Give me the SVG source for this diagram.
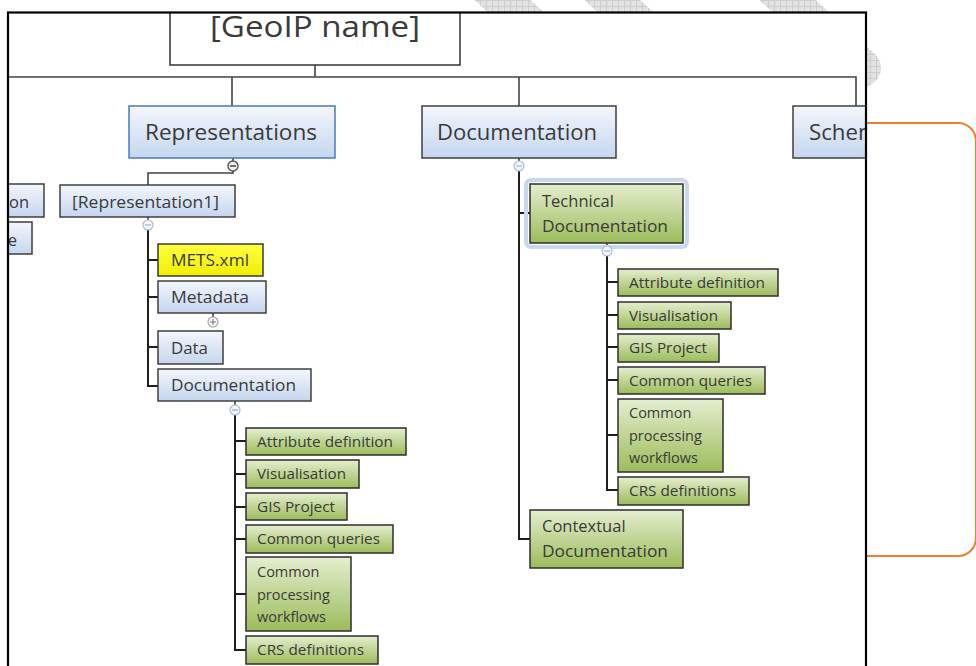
<svg xmlns="http://www.w3.org/2000/svg" width="976" height="666" viewBox="0 0 976 666">
<style>
  text { font-family: "Open Sans", "Noto Sans", "Liberation Sans", sans-serif; fill: #3a3a3a; }
  .blue { fill: url(#gBlue); stroke: #3f3f3f; stroke-width: 1.5; }
  .blueSel { fill: url(#gBlue); stroke: #4a78c8; stroke-width: 1.5; }
  .green { fill: url(#gGreen); stroke: #2e2e2e; stroke-width: 1.5; }
  .yellow { fill: url(#gYellow); stroke: #3a3a3a; stroke-width: 1.5; }
  .conn path { fill: none; stroke: #444; stroke-width: 1.6; }
  .conn .dark { stroke: #1e1e1e; stroke-width: 2; }
  .t21 { font-size: 21px; }
  .t17 { font-size: 16.5px; }
  .t15 { font-size: 14.5px; }
  .tog circle { stroke: #a9bcd8; stroke-width: 1.2; fill: #f4f7fc; }
  .tog path { stroke: #8fa6c8; stroke-width: 1.2; fill: none; }
  .togDark circle { stroke: #555; stroke-width: 1.4; fill: #f2f2f2; }
  .togDark path { stroke: #444; stroke-width: 1.4; fill: none; }
  .togGray circle { stroke: #9a9a9a; stroke-width: 1.1; fill: #fafafa; }
  .togGray path { stroke: #777; stroke-width: 1.1; fill: none; }
</style>
<defs>
  <linearGradient id="gBlue" x1="0" y1="0" x2="0" y2="1">
    <stop offset="0" stop-color="#f3f6fc"/>
    <stop offset="1" stop-color="#c5d6ef"/>
  </linearGradient>
  <linearGradient id="gGreen" x1="0" y1="0" x2="0" y2="1">
    <stop offset="0" stop-color="#e4eecf"/>
    <stop offset="1" stop-color="#9cbc5a"/>
  </linearGradient>
  <linearGradient id="gYellow" x1="0" y1="0" x2="0" y2="1">
    <stop offset="0" stop-color="#ffff40"/>
    <stop offset="1" stop-color="#f2ee00"/>
  </linearGradient>
  <pattern id="hatch" width="6" height="6" patternUnits="userSpaceOnUse">
    <rect width="6" height="6" fill="#e2e2e2"/>
    <path d="M0,0.5 H6 M0.5,0 V6" stroke="#cdcdcd" stroke-width="1"/>
  </pattern>
  <clipPath id="frameClip">
    <rect x="8" y="12.5" width="858" height="700"/>
  </clipPath>
</defs>

<!-- watermark stripes (behind frame) -->
<g id="watermark" stroke="url(#hatch)" stroke-width="38" stroke-linecap="round" fill="none">
  <path d="M470,-30 L600,90"/>
  <path d="M580,-30 L720,100"/>
  <path d="M760,-25 L862,68"/>
</g>

<!-- orange callout -->
<path id="callout" d="M866,123 H958 A18,18 0 0 1 976,141 V538 A18,18 0 0 1 958,556 H866" fill="none" stroke="#ee7d31" stroke-width="2"/>

<!-- frame background -->
<rect x="8" y="12.5" width="858" height="700" fill="#ffffff"/>

<g clip-path="url(#frameClip)">
  <g id="connectors" class="conn">
    <path d="M315,65 V77"/>
    <path d="M8,77 H856 V106"/>
    <path d="M232,77 V106"/>
    <path d="M519,77 V106"/>
    <path d="M233,158 V161"/>
    <path d="M233,171 V173 H148 V185"/>
    <path d="M148,217 V220"/>
    <path class="dark" d="M148,230 V386 H158 M148,260 H158 M148,297 H158 M148,347 H158"/>
    <path d="M213,313 V317"/>
    <path d="M235,401 V405"/>
    <path class="dark" d="M235,415 V650 H246 M235,441 H246 M235,474 H246 M235,507 H246 M235,539 H246 M235,594 H246"/>
    <path d="M519,158 V161"/>
    <path class="dark" d="M519,171 V539 H530 M519,213 H530"/>
    <path d="M607,243 V246"/>
    <path class="dark" d="M607,256 V490 H618 M607,282 H618 M607,315 H618 M607,347 H618 M607,380 H618 M607,435 H618"/>
  </g>

  <g id="root">
    <rect x="170" y="4" width="290" height="61" fill="#ffffff" stroke="#333" stroke-width="1.5"/>
    <text x="315" y="37" font-size="29" text-anchor="middle" textLength="210" lengthAdjust="spacingAndGlyphs">[GeoIP name]</text>
  </g>

  <g id="representations">
    <rect class="blueSel" x="129" y="106" width="206" height="52"/>
    <text class="t21" x="145" y="140" textLength="172" lengthAdjust="spacingAndGlyphs">Representations</text>
  </g>
  <g id="documentation">
    <rect class="blue" x="422" y="106" width="194" height="52"/>
    <text class="t21" x="437" y="140" textLength="160" lengthAdjust="spacingAndGlyphs">Documentation</text>
  </g>
  <g id="schema">
    <rect class="blue" x="793" y="106" width="100" height="52"/>
    <text class="t21" x="809" y="140" textLength="82" lengthAdjust="spacingAndGlyphs">Schema</text>
  </g>

  <g id="left-node-1">
    <rect class="blue" x="-40" y="184" width="84" height="33"/>
    <text class="t17" x="29" y="208" text-anchor="end">on</text>
  </g>
  <g id="left-node-2">
    <rect class="blue" x="-40" y="222" width="72" height="32"/>
    <text class="t17" x="17" y="246" text-anchor="end">e</text>
  </g>

  <g id="representation1">
    <rect class="blue" x="60" y="185" width="175" height="32"/>
    <text class="t17" x="72" y="208" textLength="147" lengthAdjust="spacingAndGlyphs">[Representation1]</text>
  </g>
  <g id="mets">
    <rect class="yellow" x="158" y="244" width="105" height="32"/>
    <text class="t17" x="171" y="266" textLength="78" lengthAdjust="spacingAndGlyphs">METS.xml</text>
  </g>
  <g id="metadata">
    <rect class="blue" x="158" y="281" width="108" height="32"/>
    <text class="t17" x="171" y="303" textLength="78" lengthAdjust="spacingAndGlyphs">Metadata</text>
  </g>
  <g id="data">
    <rect class="blue" x="158" y="331" width="65" height="33"/>
    <text class="t17" x="171" y="354" textLength="37" lengthAdjust="spacingAndGlyphs">Data</text>
  </g>
  <g id="rep-documentation">
    <rect class="blue" x="158" y="369" width="153" height="32"/>
    <text class="t17" x="171" y="391" textLength="125" lengthAdjust="spacingAndGlyphs">Documentation</text>
  </g>

  <g id="rep-attribute-definition">
    <rect class="green" x="246" y="428" width="160" height="27"/>
    <text class="t15" x="257" y="447" textLength="136" lengthAdjust="spacingAndGlyphs">Attribute definition</text>
  </g>
  <g id="rep-visualisation">
    <rect class="green" x="246" y="460" width="113" height="28"/>
    <text class="t15" x="257" y="479" textLength="89" lengthAdjust="spacingAndGlyphs">Visualisation</text>
  </g>
  <g id="rep-gis-project">
    <rect class="green" x="246" y="493" width="101" height="27"/>
    <text class="t15" x="257" y="512" textLength="78" lengthAdjust="spacingAndGlyphs">GIS Project</text>
  </g>
  <g id="rep-common-queries">
    <rect class="green" x="246" y="525" width="147" height="28"/>
    <text class="t15" x="257" y="544" textLength="123" lengthAdjust="spacingAndGlyphs">Common queries</text>
  </g>
  <g id="rep-common-processing">
    <rect class="green" x="246" y="557" width="105" height="74"/>
    <text class="t15" x="257" y="577">Common</text>
    <text class="t15" x="257" y="600">processing</text>
    <text class="t15" x="257" y="622">workflows</text>
  </g>
  <g id="rep-crs-definitions">
    <rect class="green" x="246" y="636" width="132" height="28"/>
    <text class="t15" x="257" y="655" textLength="107" lengthAdjust="spacingAndGlyphs">CRS definitions</text>
  </g>

  <g id="technical-documentation">
    <rect x="526" y="180" width="161" height="67" rx="5" fill="none" stroke="#c8d9ef" stroke-width="4"/>
    <rect class="green" x="530" y="184" width="153" height="59"/>
    <text class="t17" x="542" y="207">Technical</text>
    <text class="t17" x="542" y="232" textLength="126" lengthAdjust="spacingAndGlyphs">Documentation</text>
  </g>
  <g id="tech-attribute-definition">
    <rect class="green" x="618" y="269" width="160" height="27"/>
    <text class="t15" x="629" y="288" textLength="136" lengthAdjust="spacingAndGlyphs">Attribute definition</text>
  </g>
  <g id="tech-visualisation">
    <rect class="green" x="618" y="302" width="113" height="27"/>
    <text class="t15" x="629" y="321" textLength="89" lengthAdjust="spacingAndGlyphs">Visualisation</text>
  </g>
  <g id="tech-gis-project">
    <rect class="green" x="618" y="334" width="101" height="28"/>
    <text class="t15" x="629" y="353" textLength="78" lengthAdjust="spacingAndGlyphs">GIS Project</text>
  </g>
  <g id="tech-common-queries">
    <rect class="green" x="618" y="367" width="147" height="27"/>
    <text class="t15" x="629" y="386" textLength="123" lengthAdjust="spacingAndGlyphs">Common queries</text>
  </g>
  <g id="tech-common-processing">
    <rect class="green" x="618" y="399" width="105" height="73"/>
    <text class="t15" x="629" y="418">Common</text>
    <text class="t15" x="629" y="441">processing</text>
    <text class="t15" x="629" y="463">workflows</text>
  </g>
  <g id="tech-crs-definitions">
    <rect class="green" x="618" y="477" width="131" height="28"/>
    <text class="t15" x="629" y="496" textLength="107" lengthAdjust="spacingAndGlyphs">CRS definitions</text>
  </g>
  <g id="contextual-documentation">
    <rect class="green" x="530" y="510" width="153" height="58"/>
    <text class="t17" x="542" y="532">Contextual</text>
    <text class="t17" x="542" y="557" textLength="126" lengthAdjust="spacingAndGlyphs">Documentation</text>
  </g>

  <g id="toggles">
    <g class="togDark"><circle cx="233" cy="166" r="5"/><path d="M230,166 H236"/></g>
    <g class="tog"><circle cx="519" cy="166" r="5"/><path d="M516,166 H522"/></g>
    <g class="tog"><circle cx="148" cy="225" r="5"/><path d="M145,225 H151"/></g>
    <g class="togGray"><circle cx="213" cy="322" r="5"/><path d="M210,322 H216 M213,319 V325"/></g>
    <g class="tog"><circle cx="235" cy="410" r="5"/><path d="M232,410 H238"/></g>
    <g class="tog"><circle cx="607" cy="251" r="5"/><path d="M604,251 H610"/></g>
  </g>
</g>

<!-- frame border -->
<rect x="8" y="12.5" width="858" height="700" fill="none" stroke="#000" stroke-width="2.2"/>
</svg>
